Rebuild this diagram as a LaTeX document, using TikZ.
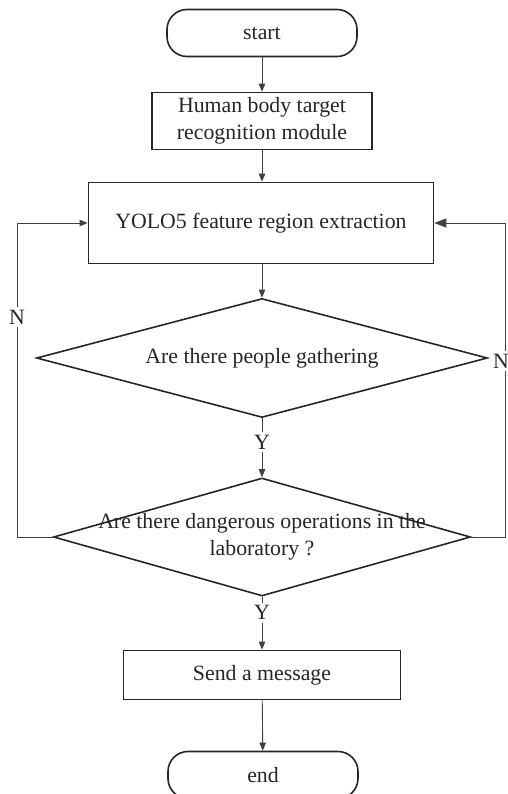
\documentclass[tikz,border=0pt]{standalone}
\usepackage{fontspec}
\setmainfont{Liberation Serif}
\usetikzlibrary{arrows.meta,shapes.geometric,positioning}
\tikzset{
  every picture/.style={line width=0.8pt},
  terminal/.style={draw=black!85, rounded corners=10pt, minimum width=95pt, minimum height=23.5pt},
  process/.style={draw=black!85, align=center, inner sep=2pt},
  decision/.style={draw=black!85, diamond, inner sep=0pt},
  arr/.style={draw=black!75, line width=0.45pt, -{Triangle[length=4pt,width=3.2pt]}},
  tag/.style={fill=white, inner sep=1.5pt}
}

\begin{document}
\begin{tikzpicture}[x=0.5pt, y=-0.5pt, font=\fontsize{10.9}{13.5}\selectfont, text=black!85]
    \useasboundingbox (0,0) rectangle (508,794);

    % 节点
    \node[terminal] (start) at (262,33) {start};
    \node[process, minimum width=110pt, minimum height=28.5pt] (human) at (262,121)
        {Human body target\\recognition module};
    \node[process, minimum width=172.5pt, minimum height=40.5pt] (yolo) at (261,223)
        {YOLO5 feature region extraction};
    \node[decision, minimum width=225.5pt, minimum height=59.5pt, shape aspect=3.8] (gather) at (262,358)
        {Are there people gathering};
    \node[decision, minimum width=208.5pt, minimum height=59pt,
        label={[align=center]center:Are there dangerous operations in the\\laboratory ?}] (danger) at (262,537) {};
    \node[process, minimum width=138.5pt, minimum height=24.5pt] (send) at (262,675) {Send a message};
    \node[terminal] (end) at (263,775) {end};

    % 主流程
    \draw[arr] (start) -- (human);
    \draw[arr] (human) -- (yolo.north -| human);
    \draw[arr] (yolo.south -| gather) -- (gather);
    \draw[arr] (gather) -- node[tag, pos=0.4] {Y} (danger);
    \draw[arr] (danger) -- node[tag, pos=0.3] {Y} (send);
    \draw[arr] (send) -- (end);

    % 回路
    \coordinate (lft) at (17,537);
    \coordinate (rgt) at (505,537);
    \draw[arr] (danger.west) -- (lft) |- node[tag, pos=0.35] {N} (yolo.west);
    \draw[arr, -{Triangle[length=6pt,width=4.5pt]}] (danger.east) -- (rgt) |- node[tag, pos=0.28, xshift=-2pt] {N} (yolo.east);
\end{tikzpicture}
\end{document}
